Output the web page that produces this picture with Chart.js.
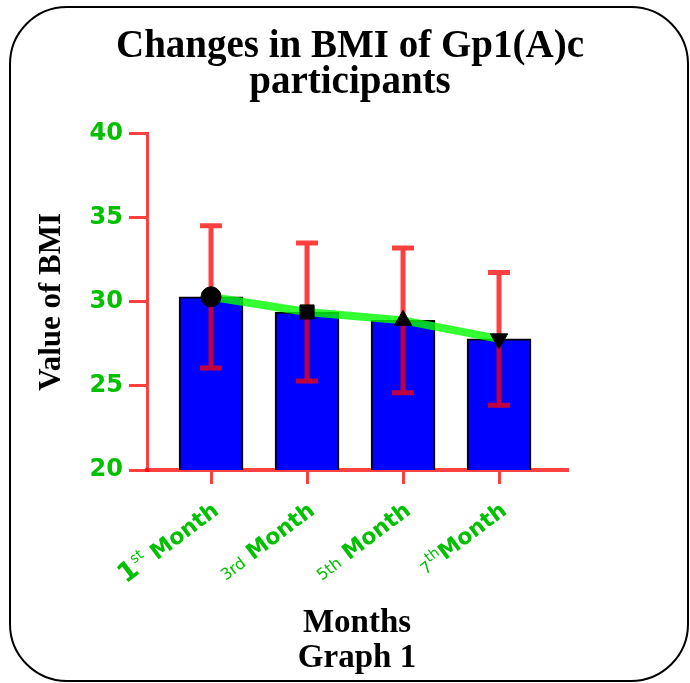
<!DOCTYPE html>
<html>
<head>
<meta charset="utf-8">
<script src="https://cdn.jsdelivr.net/npm/chart.js@4.4.1/dist/chart.umd.min.js"></script>
<style>
  body { margin: 0; background: #fff; }
  #frame { position: absolute; left: 9px; top: 6px; width: 680px; height: 676px; box-sizing: border-box; border: 2px solid #000; border-radius: 58px; }
  #wrap { position: absolute; left: 0; top: 0; width: 690px; height: 683px; }
</style>
</head>
<body>
<div id="frame"></div>
<div id="wrap"><canvas id="bmi" width="690" height="683"></canvas></div>
<script>
// data
var months   = ['1st Month', '3rd Month', '5th Month', '7th Month'];
var monthPos = [0, 1, 2, 3];
var bmiMean  = [30.3, 29.4, 28.9, 27.8];
var bmiSD    = [4.23, 4.1, 4.3, 3.95];
var yTicks   = [20, 25, 30, 35, 40];

var RED = 'rgba(255,0,0,0.75)';
var GREEN = '#00c000';

// ordinal part of each month label, drawn like the original (superscripts etc.)
var labelLook = [
	{ num: 'bold 27px "DejaVu Sans"', suf: '14px "DejaVu Sans"', rise: 11, space: ' ' },
	{ num: '16px "DejaVu Sans"',      suf: '16px "DejaVu Sans"', rise: 0,  space: ' ' },
	{ num: '16px "DejaVu Sans"',      suf: '16px "DejaVu Sans"', rise: 0,  space: ' ' },
	{ num: '16px "DejaVu Sans"',      suf: '14px "DejaVu Sans"', rise: 8,  space: '' }
];

var errorBars = {
	id : 'errorBars',
	afterDatasetDraw : function(chart, args) {
		if (args.index !== 1) return;
		var ctx = chart.ctx, y = chart.scales.y;
		ctx.save();
		ctx.strokeStyle = RED;
		ctx.lineWidth = 5;
		ctx.beginPath();
		args.meta.data.forEach(function(bar, i) {
			var top = y.getPixelForValue(bmiMean[i] + bmiSD[i]);
			var bot = y.getPixelForValue(bmiMean[i] - bmiSD[i]);
			ctx.moveTo(bar.x, top);
			ctx.lineTo(bar.x, bot);
			ctx.moveTo(bar.x - 11, top);
			ctx.lineTo(bar.x + 11, top);
			ctx.moveTo(bar.x - 11, bot);
			ctx.lineTo(bar.x + 11, bot);
		});
		ctx.stroke();
		ctx.restore();
	}
};

var monthLabels = {
	id : 'monthLabels',
	afterDraw : function(chart) {
		var ctx = chart.ctx, x = chart.scales.x;
		var base = chart.chartArea.bottom + 43;
		months.forEach(function(label, i) {
			var m = label.match(/^(\d+)(st|nd|rd|th) (.*)$/);
			var look = labelLook[i];
			var parts = [
				{ t: m[1], f: look.num, r: 0 },
				{ t: m[2], f: look.suf, r: look.rise },
				{ t: look.space + m[3], f: 'bold 22px "DejaVu Sans"', r: 0 }
			];
			ctx.save();
			ctx.translate(x.getPixelForValue(monthPos[i]) + 9, base);
			ctx.rotate(-37 * Math.PI / 180);
			ctx.fillStyle = GREEN;
			ctx.textBaseline = 'alphabetic';
			ctx.textAlign = 'left';
			var total = 0;
			parts.forEach(function(p) { ctx.font = p.f; p.w = ctx.measureText(p.t).width; total += p.w; });
			var cx = -total;
			parts.forEach(function(p) { ctx.font = p.f; ctx.fillText(p.t, cx, -p.r); cx += p.w; });
			ctx.restore();
		});
	}
};

var config = {
	type    : 'bar',
	data    : {
		datasets : [
			{
				type             : 'line',
				data             : monthPos.map(function(v, i) { return { x: v, y: bmiMean[i] }; }),
				borderColor      : 'rgba(0,255,0,0.8)',
				borderWidth      : 8,
				pointStyle       : ['circle', 'rect', 'triangle', 'triangle'],
				rotation         : [0, 0, 0, 180],
				pointRadius      : 10,
				pointBackgroundColor : '#000',
				pointBorderColor : '#000',
				pointBorderWidth : 1
			},
			{
				data            : monthPos.map(function(v, i) { return { x: v, y: bmiMean[i] }; }),
				backgroundColor : '#0000ff',
				borderColor     : '#000',
				borderWidth     : 2,
				barThickness    : 64
			}
		]
	},
	options : {
		responsive : false,
		animation  : false,
		layout     : { padding : { left: 10, right: 0, top: 0, bottom: 0 } },
		plugins    : {
			legend  : { display : false },
			tooltip : { enabled : false },
			title   : {
				display : true,
				text    : ['Changes in BMI of Gp1(A)c', 'participants'],
				color   : '#000',
				font    : { family: '"Liberation Serif", serif', size: 39, weight: 'bold', lineHeight: 0.92 },
				padding : { top: 29, bottom: 33 }
			}
		},
		scales     : {
			x : {
				type   : 'linear',
				offset : false,
				min    : -0.667,
				max    : 3.708,
				afterBuildTicks : function(s) { s.ticks = monthPos.map(function(v) { return { value: v }; }); },
				afterFit : function(s) { s.height = 213; },
				ticks : { display : false },
				grid  : { offset : false, drawOnChartArea : false, tickLength : 14, color : RED, lineWidth : 3 },
				border: { color : RED, width : 4 },
				title : {
					display : true,
					text    : ['Months', 'Graph 1'],
					color   : '#000',
					font    : { family: '"Liberation Serif", serif', size: 33, weight: 'bold', lineHeight: 1.06 },
					padding : { top: 0, bottom: 7 }
				}
			},
			y : {
				min   : 20,
				max   : 40,
				afterBuildTicks : function(s) { s.ticks = yTicks.map(function(v) { return { value: v }; }); },
				afterFit : function(s) { s.width = 137; },
				ticks : { color : GREEN, font : { family: '"DejaVu Sans"', size: 24, weight: 'bold' }, padding : 6 },
				grid  : { drawOnChartArea : false, tickLength : 18, color : RED, lineWidth : 3 },
				border: { color : RED, width : 3 },
				title : {
					display : true,
					text    : 'Value of BMI',
					color   : '#000',
					font    : { family: '"Liberation Serif", serif', size: 31, weight: 'bold' },
					padding : { top: 23, bottom: 0 }
				}
			},
			// empty right margin so the title centres on the whole page
			side : {
				position : 'right',
				display  : true,
				afterFit : function(s) { s.width = 123; },
				ticks    : { display : false },
				grid     : { display : false },
				border   : { display : false }
			}
		}
	},
	plugins : [errorBars, monthLabels]
};

window.onload = function() {
	var ctx = document.getElementById('bmi').getContext('2d');
	window.bmiChart = new Chart(ctx, config);
};
</script>
</body>
</html>
